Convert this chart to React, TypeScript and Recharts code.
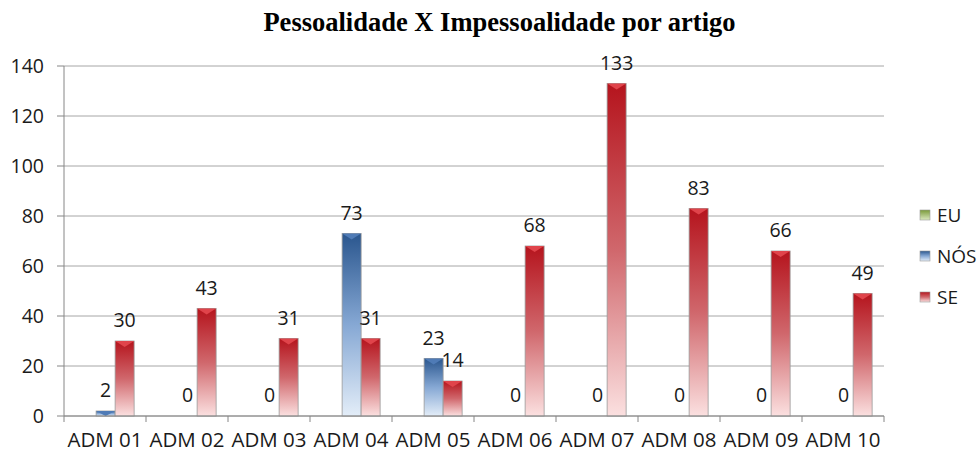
import React from 'react';
import { BarChart, Bar, XAxis, YAxis, CartesianGrid, Legend, LabelList } from 'recharts';

const categories = ['ADM 01', 'ADM 02', 'ADM 03', 'ADM 04', 'ADM 05', 'ADM 06', 'ADM 07', 'ADM 08', 'ADM 09', 'ADM 10'];
const euValues: (number | null)[] = [null, null, null, null, null, null, null, null, null, null];
const nosValues = [2, 0, 0, 73, 23, 0, 0, 0, 0, 0];
const seValues = [30, 43, 31, 31, 14, 68, 133, 83, 66, 49];
const yTicks = [0, 20, 40, 60, 80, 100, 120, 140];

const data = categories.map((name, i) => ({
  name,
  EU: euValues[i],
  NOS: nosValues[i],
  SE: seValues[i],
}));

const FONT = '"Open Sans", sans-serif';

const legendItems = [
  { label: 'EU', grad: 'gradEU' },
  { label: 'NÓS', grad: 'gradNOS' },
  { label: 'SE', grad: 'gradSE' },
];

// bevelled bar like the excel one
const makeShape = (tipColor: string, grad: string) => (props: any) => {
  const { x, y, width, height } = props;
  if (height == null || height <= 0) return <g />;
  const tip = Math.min(6, height);
  return (
    <g>
      <rect x={x} y={y} width={width} height={height} fill={`url(#${grad})`} stroke="#9a9a9a" strokeWidth={0.8} />
      <polygon points={`${x},${y} ${x + width},${y} ${x + width / 2},${y + tip}`} fill={tipColor} />
    </g>
  );
};

const XTick = (props: any) => {
  const { x, y, payload, index, visibleTicksCount } = props;
  const off = payload.offset || 0;
  return (
    <g>
      <line x1={x - off} x2={x - off} y1={y} y2={y + 6} stroke="#868686" />
      {index === visibleTicksCount - 1 && (
        <line x1={x + off} x2={x + off} y1={y} y2={y + 6} stroke="#868686" />
      )}
      <text x={x} y={y + 31} textAnchor="middle" fontSize={20.5} fontFamily={FONT} fill="#1a1a1a">
        {payload.value}
      </text>
    </g>
  );
};

const renderLegend = () => (
  <div style={{ fontFamily: FONT, fontSize: 19, color: '#1a1a1a' }}>
    {legendItems.map(item => (
      <div key={item.label} style={{ display: 'flex', alignItems: 'center', height: 41 }}>
        <svg width={12} height={12} style={{ marginRight: 6 }}>
          <rect x={1} y={1} width={10} height={10} fill={`url(#${item.grad})`} stroke="#9a9a9a" strokeWidth={0.6} />
        </svg>
        <span>{item.label}</span>
      </div>
    ))}
  </div>
);

export default function App() {
  return (
    <div style={{ position: 'relative', width: 979, height: 452, background: '#fff' }}>
      <style>{`body{margin:0}`}</style>
      <div
        style={{
          position: 'absolute',
          top: 7,
          left: 10,
          width: 979,
          textAlign: 'center',
          fontFamily: '"Liberation Serif", serif',
          fontWeight: 'bold',
          fontSize: 26.5,
          color: '#000',
        }}
      >
        Pessoalidade X Impessoalidade por artigo
      </div>
      <BarChart
        width={979}
        height={452}
        data={data}
        margin={{ top: 66, right: 95, left: 8, bottom: 0 }}
        barCategoryGap="16%"
        barGap={0}
      >
        <defs>
          <linearGradient id="gradSE" x1="0" y1="0" x2="0" y2="1">
            <stop offset="0%" stopColor="#b5141d" />
            <stop offset="50%" stopColor="#d0676c" />
            <stop offset="100%" stopColor="#fbe0e0" />
          </linearGradient>
          <linearGradient id="gradNOS" x1="0" y1="0" x2="0" y2="1">
            <stop offset="0%" stopColor="#2a568e" />
            <stop offset="50%" stopColor="#86a8d4" />
            <stop offset="100%" stopColor="#e3edf8" />
          </linearGradient>
          <linearGradient id="gradEU" x1="0" y1="0" x2="0" y2="1">
            <stop offset="0%" stopColor="#7a9a3a" />
            <stop offset="100%" stopColor="#dbe9c0" />
          </linearGradient>
        </defs>
        <CartesianGrid vertical={false} stroke="#a6a6a6" />
        <XAxis
          dataKey="name"
          axisLine={{ stroke: '#868686' }}
          tickLine={false}
          tickSize={0}
          tickMargin={0}
          height={36}
          interval={0}
          tick={<XTick />}
        />
        <YAxis
          domain={[0, 140]}
          ticks={yTicks}
          width={56}
          axisLine={{ stroke: '#868686' }}
          tickLine={{ stroke: '#868686' }}
          tickSize={7}
          tickMargin={13}
          tick={{ fontSize: 19.5, fontFamily: FONT, fill: '#1a1a1a' }}
          interval={0}
        />
        <Legend
          layout="vertical"
          align="center"
          verticalAlign="middle"
          content={renderLegend}
          wrapperStyle={{ position: 'absolute', left: 919, top: 194, width: 70 }}
        />
        <Bar dataKey="EU" name="EU" fill="url(#gradEU)" isAnimationActive={false} shape={makeShape('#a5c46a', 'gradEU')} />
        <Bar dataKey="NOS" name="NÓS" fill="url(#gradNOS)" isAnimationActive={false} shape={makeShape('#4f7bb6', 'gradNOS')}>
          <LabelList dataKey="NOS" position="top" offset={14} fontSize={19.5} fontFamily={FONT} fill="#1a1a1a" />
        </Bar>
        <Bar dataKey="SE" name="SE" fill="url(#gradSE)" isAnimationActive={false} shape={makeShape('#e0444b', 'gradSE')}>
          <LabelList dataKey="SE" position="top" offset={14} fontSize={19.5} fontFamily={FONT} fill="#1a1a1a" />
        </Bar>
      </BarChart>
    </div>
  );
}
